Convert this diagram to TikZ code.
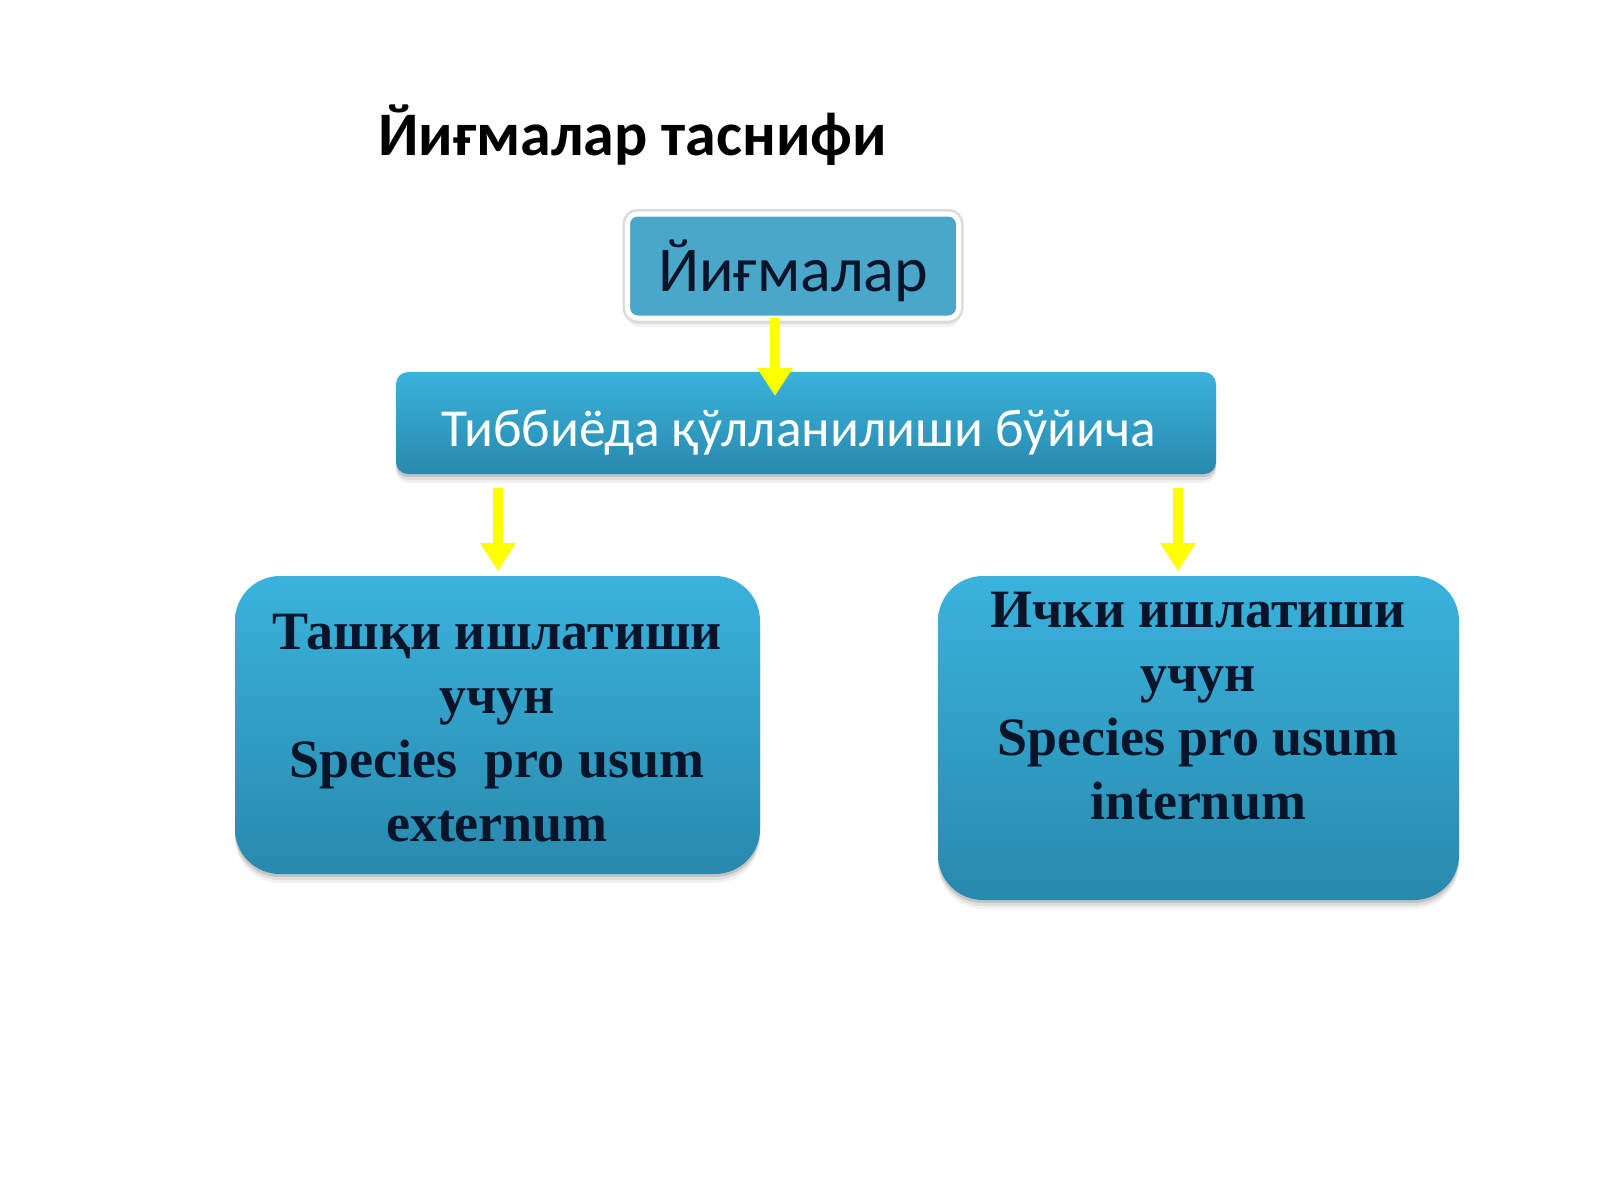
\documentclass[tikz,border=0pt]{standalone}
\usepackage{fontspec}
\setmainfont{Carlito}
\newfontfamily\serifbold{Liberation Serif}
\usetikzlibrary{arrows.meta,shadows}
\definecolor{topfill}{HTML}{4AA7C9}
\definecolor{boxtop}{HTML}{3AB3DC}
\definecolor{boxbot}{HTML}{2889AD}
\definecolor{navytext}{HTML}{08142A}
\definecolor{arrowyellow}{HTML}{FFFF00}
\tikzset{
  softshadow/.style={
    drop shadow={shadow xshift=0pt,shadow yshift=-9pt,opacity=0.05,fill=black},
    drop shadow={shadow xshift=0pt,shadow yshift=-6pt,opacity=0.08,fill=black},
    drop shadow={shadow xshift=0pt,shadow yshift=-3pt,opacity=0.12,fill=black}},
  topbox/.style={rounded corners=10pt,fill=topfill,draw=white,line width=5pt,minimum width=331pt,minimum height=104pt,inner sep=0pt,softshadow,
    preaction={draw=black!14,line width=10pt}},
  midbox/.style={rounded corners=12pt,top color=boxtop,bottom color=boxbot,minimum width=820pt,minimum height=102pt,inner sep=0pt,softshadow},
  bigbox/.style={rounded corners=45pt,top color=boxtop,bottom color=boxbot,inner sep=0pt,softshadow},
  bigtext/.style={align=center,text=navytext,font=\serifbold\bfseries\fontsize{54}{64}\selectfont},
  yarrow/.style={draw=arrowyellow,line width=10pt,-{Triangle[width=34pt,length=28pt]}}
}
\begin{document}
\begin{tikzpicture}[x=1pt,y=-1pt]
\useasboundingbox[fill=white] (0,0) rectangle (1600,1200);
\node[anchor=base west,font=\bfseries\fontsize{62}{70}\selectfont] (title) at (375,155) {Йиғмалар таснифи};
\node[topbox] (top) at (793,266) {};
\node[font=\fontsize{64}{72}\selectfont,text=navytext,anchor=base] (toptext) at (793,291) {Йиғмалар};
\node[midbox] (mid) at (806,423) {};
\node[font=\fontsize{53.5}{60}\selectfont,text=white,anchor=base] (midtext) at (799,446) {Тиббиёда қўлланилиши бўйича};
\node[bigbox,minimum width=525pt,minimum height=298pt] (left) at (497.5,725) {};
\node[bigbox,minimum width=521pt,minimum height=324pt] (right) at (1198.5,738) {};
\node[bigtext,anchor=base] (lefttext) at (497,841) {Ташқи ишлатиши\\учун\\Species\ \ pro usum\\externum};
\node[bigtext,anchor=base] (righttext) at (1198,819) {Ички ишлатиши\\учун\\Species pro usum\\internum};
\coordinate (a1s) at (775,318);
\coordinate (a1e) at (775,396);
\coordinate (a2s) at (498,488);
\coordinate (a2e) at (498,571);
\coordinate (a3s) at (1178,488);
\coordinate (a3e) at (1178,571);
\draw[yarrow] (a1s) -- (a1e);
\draw[yarrow] (a2s) -- (a2e);
\draw[yarrow] (a3s) -- (a3e);
\end{tikzpicture}
\end{document}
